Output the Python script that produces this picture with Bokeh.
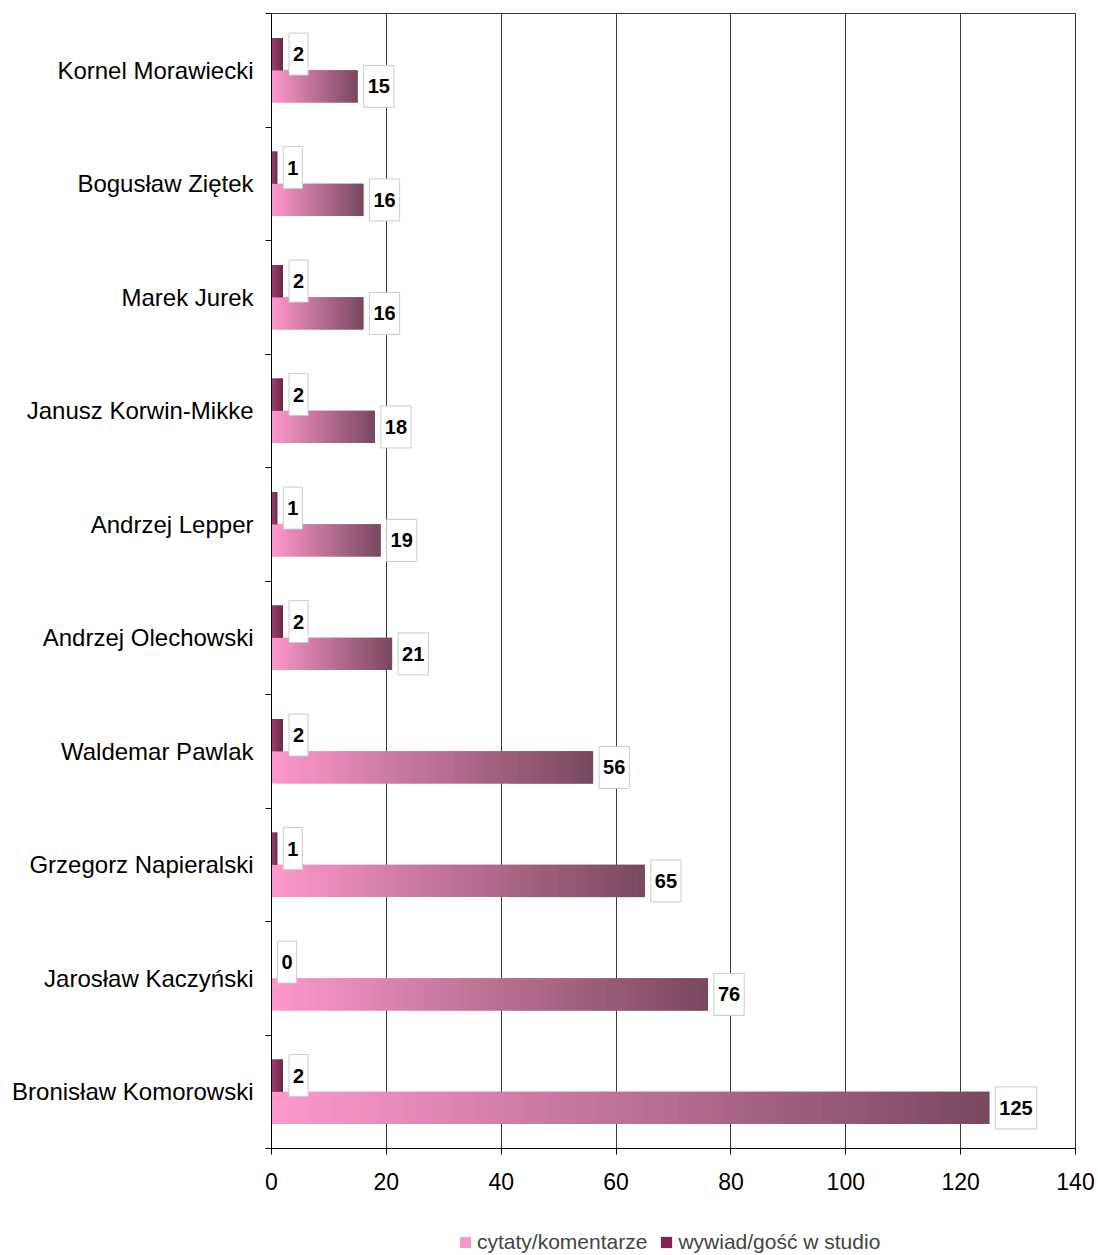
from bokeh.plotting import figure
from bokeh.layouts import column
from bokeh.models import (Range1d, FixedTicker, ColumnDataSource, Label, Legend, LegendItem)
from bokeh.embed import file_html
from bokeh.resources import INLINE

# ---- data (top to bottom as shown) ----
categories = ["Kornel Morawiecki", "Bogusław Ziętek", "Marek Jurek", "Janusz Korwin-Mikke",
              "Andrzej Lepper", "Andrzej Olechowski", "Waldemar Pawlak", "Grzegorz Napieralski",
              "Jarosław Kaczyński", "Bronisław Komorowski"]
cytaty = [15, 16, 16, 18, 19, 21, 56, 65, 76, 125]
wywiad = [2, 1, 2, 2, 1, 2, 2, 1, 0, 2]
x_ticks = [0, 20, 40, 60, 80, 100, 120, 140]
series_names = ["cytaty/komentarze", "wywiad/gość w studio"]

FONT = "Liberation Sans"
n = len(categories)
ypos = [n - 1 - i for i in range(n)]  # top category gets highest y

BAR_H = 0.285
OFF = 0.1425
PINK = ("#ff99cc", "#784860")
DARK = ("#9e2e6a", "#581a39")

def hex2rgb(h):
    h = h.lstrip("#")
    return tuple(int(h[i:i + 2], 16) for i in (0, 2, 4))

def lerp(c1, c2, t):
    a, b = hex2rgb(c1), hex2rgb(c2)
    return "#%02x%02x%02x" % tuple(int(round(a[k] + (b[k] - a[k]) * t)) for k in range(3))

def gradient_source(values, yc, c_start, c_end, steps=60):
    d = dict(left=[], right=[], top=[], bottom=[], color=[])
    for v, y in zip(values, yc):
        if v <= 0:
            continue
        for s in range(steps):
            d["left"].append(v * s / steps)
            d["right"].append(min(v, v * (s + 2) / steps))
            d["bottom"].append(y - BAR_H / 2)
            d["top"].append(y + BAR_H / 2)
            d["color"].append(lerp(c_start, c_end, (s + 0.5) / steps))
    return ColumnDataSource(d)

p = figure(width=1098, height=1213, output_backend="svg", toolbar_location=None,
           x_range=Range1d(0, 140), y_range=Range1d(-0.5, n - 0.5),
           min_border_left=271, min_border_right=23, min_border_top=13,
           min_border_bottom=65)
p.background_fill_color = "white"
p.border_fill_color = "white"
p.outline_line_color = "#333333"
p.outline_line_width = 1

y_pink = [y - OFF for y in ypos]
y_dark = [y + OFF for y in ypos]

src_pink = gradient_source(cytaty, y_pink, *PINK)
src_dark = gradient_source(wywiad, y_dark, *DARK)

p.quad(left="left", right="right", top="top", bottom="bottom", source=src_pink,
       fill_color="color", line_color=None)
p.quad(left="left", right="right", top="top", bottom="bottom", source=src_dark,
       fill_color="color", line_color=None)

# axes
p.xaxis.ticker = FixedTicker(ticks=x_ticks)
p.xaxis.major_label_text_font = FONT
p.xaxis.major_label_text_font_size = "23px"
p.xaxis.major_label_text_color = "black"
p.xaxis.major_tick_out = 6
p.xaxis.major_tick_in = 0
p.xaxis.minor_tick_out = 0
p.xaxis.minor_tick_in = 0
p.xaxis.major_label_standoff = 18
p.xaxis.axis_line_color = "black"
p.xaxis.major_tick_line_color = "black"

boundaries = [i - 0.5 for i in range(n + 1)]
p.yaxis.ticker = FixedTicker(ticks=ypos, minor_ticks=boundaries)
p.yaxis.major_label_overrides = {y: c for y, c in zip(ypos, categories)}
p.yaxis.major_label_text_font = FONT
p.yaxis.major_label_text_font_size = "24px"
p.yaxis.major_label_text_color = "black"
p.yaxis.major_tick_out = 0
p.yaxis.major_tick_in = 0
p.yaxis.minor_tick_out = 6
p.yaxis.minor_tick_in = 0
p.yaxis.minor_tick_line_color = "black"
p.yaxis.major_label_standoff = 12
p.yaxis.axis_line_color = "black"

p.xgrid.ticker = FixedTicker(ticks=x_ticks)
p.xgrid.grid_line_color = "#3a3a3a"
p.xgrid.grid_line_width = 1
p.ygrid.grid_line_color = None

# value labels
for v, y in zip(cytaty + wywiad, y_pink + y_dark):
    p.add_layout(Label(x=v, y=y, text=str(v), x_offset=6, y_offset=0,
                       text_align="left", text_baseline="middle",
                       text_font=FONT, text_font_size="20px", text_font_style="bold",
                       text_color="black",
                       background_fill_color="white", border_line_color="#cccccc",
                       border_line_width=1,
                       padding=dict(left=4, right=4, top=14, bottom=14)))

# ---- legend strip ----
lg = figure(width=1098, height=42, output_backend="svg", toolbar_location=None,
            x_range=Range1d(0, 1), y_range=Range1d(0, 1),
            min_border_left=0, min_border_right=0, min_border_top=0, min_border_bottom=0)
lg.axis.visible = False
lg.grid.visible = False
lg.outline_line_color = None
r_leg_pink = lg.hbar(y=[-5], right=[0], height=0.1, fill_color="#f39ac6", line_color=None)
r_leg_dark = lg.hbar(y=[-5], right=[0], height=0.1, fill_color="#7e2552", line_color=None)
legend = Legend(items=[LegendItem(label=series_names[0], renderers=[r_leg_pink]),
                       LegendItem(label=series_names[1], renderers=[r_leg_dark])],
                orientation="horizontal", location=(187, 1),
                glyph_width=14, glyph_height=14, spacing=12, label_standoff=5,
                label_text_font=FONT, label_text_font_size="21px",
                border_line_color=None, background_fill_color=None,
                padding=0, margin=0)
lg.add_layout(legend, "center")

open("out.html", "w").write(file_html(column(p, lg, spacing=0), INLINE))
